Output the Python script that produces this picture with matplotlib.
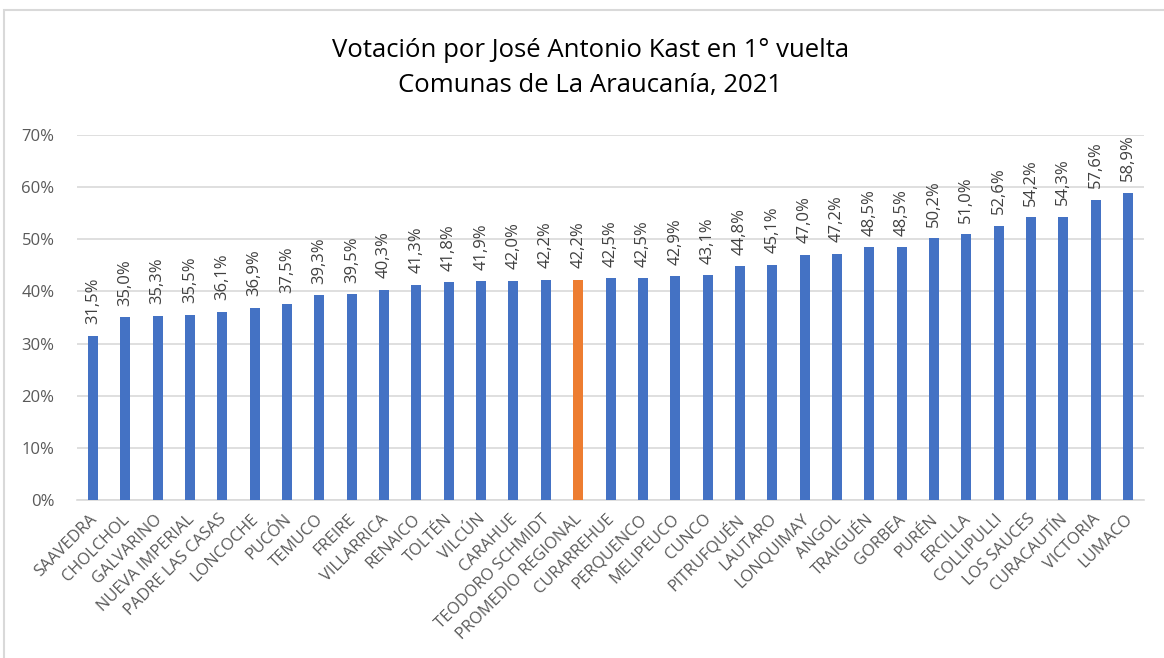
import matplotlib.pyplot as plt
import matplotlib.transforms as mtransforms
from matplotlib.patches import Rectangle
from matplotlib.ticker import FuncFormatter

comunas = ["SAAVEDRA", "CHOLCHOL", "GALVARINO", "NUEVA IMPERIAL", "PADRE LAS CASAS",
           "LONCOCHE", "PUCÓN", "TEMUCO", "FREIRE", "VILLARRICA", "RENAICO", "TOLTÉN",
           "VILCÚN", "CARAHUE", "TEODORO SCHMIDT", "PROMEDIO REGIONAL", "CURARREHUE",
           "PERQUENCO", "MELIPEUCO", "CUNCO", "PITRUFQUÉN", "LAUTARO", "LONQUIMAY",
           "ANGOL", "TRAIGUÉN", "GORBEA", "PURÉN", "ERCILLA", "COLLIPULLI",
           "LOS SAUCES", "CURACAUTÍN", "VICTORIA", "LUMACO"]
votos = [31.5, 35.0, 35.3, 35.5, 36.1, 36.9, 37.5, 39.3, 39.5, 40.3, 41.3, 41.8,
         41.9, 42.0, 42.2, 42.2, 42.5, 42.5, 42.9, 43.1, 44.8, 45.1, 47.0, 47.2,
         48.5, 48.5, 50.2, 51.0, 52.6, 54.2, 54.3, 57.6, 58.9]

plt.rcParams['font.family'] = ['Open Sans', 'DejaVu Sans']

fig = plt.figure(figsize=(11.64, 6.58), dpi=100)
fig.patches.append(Rectangle((4 / 1164, -0.1), 1.2, 1.1 - 10 / 658, transform=fig.transFigure,
                             fill=False, edgecolor='#d9d9d9', linewidth=1.5))
ax = fig.add_axes([0.066, 0.240, 0.917, 0.555])

colors = ['#ed7d31' if c == "PROMEDIO REGIONAL" else '#4472c4' for c in comunas]
x = range(len(comunas))
ax.bar(x, votos, width=0.31, color=colors, zorder=3)

for i, v in enumerate(votos):
    ax.text(i, v + 2.2, f"{v:.1f}%".replace('.', ','), rotation=90, ha='center', va='bottom',
            fontsize=12, color='#404040')

ax.set_xlim(-0.5, len(comunas) - 0.5)
ax.set_ylim(0, 70)
ax.set_yticks(range(0, 71, 10))
ax.yaxis.set_major_formatter(FuncFormatter(lambda v, p: f"{int(v)}%"))
ax.grid(axis='y', color='#d9d9d9', linewidth=1.2, zorder=0)
ax.set_xticks(list(x))
ax.set_xticklabels(comunas, rotation=45, ha='right', rotation_mode='anchor')
ax.tick_params(axis='x', length=0, labelsize=11.8, labelcolor='#595959', pad=8)
ax.tick_params(axis='y', length=0, labelsize=12, labelcolor='#595959', pad=16)
shift = mtransforms.ScaledTranslation(-4 / 100, 0, fig.dpi_scale_trans)
for lbl in ax.get_xticklabels():
    lbl.set_transform(lbl.get_transform() + shift)
for s in ['top', 'right', 'left']:
    ax.spines[s].set_visible(False)
ax.spines['bottom'].set_color('#d9d9d9')
ax.spines['bottom'].set_linewidth(1.2)

fig.text(0.507, 0.924, "Votación por José Antonio Kast en 1° vuelta", ha='center', va='center',
         fontsize=18.5, color='black')
fig.text(0.507, 0.870, "Comunas de La Araucanía, 2021", ha='center', va='center',
         fontsize=18.5, color='black')

fig.savefig('out.png', dpi=100)
